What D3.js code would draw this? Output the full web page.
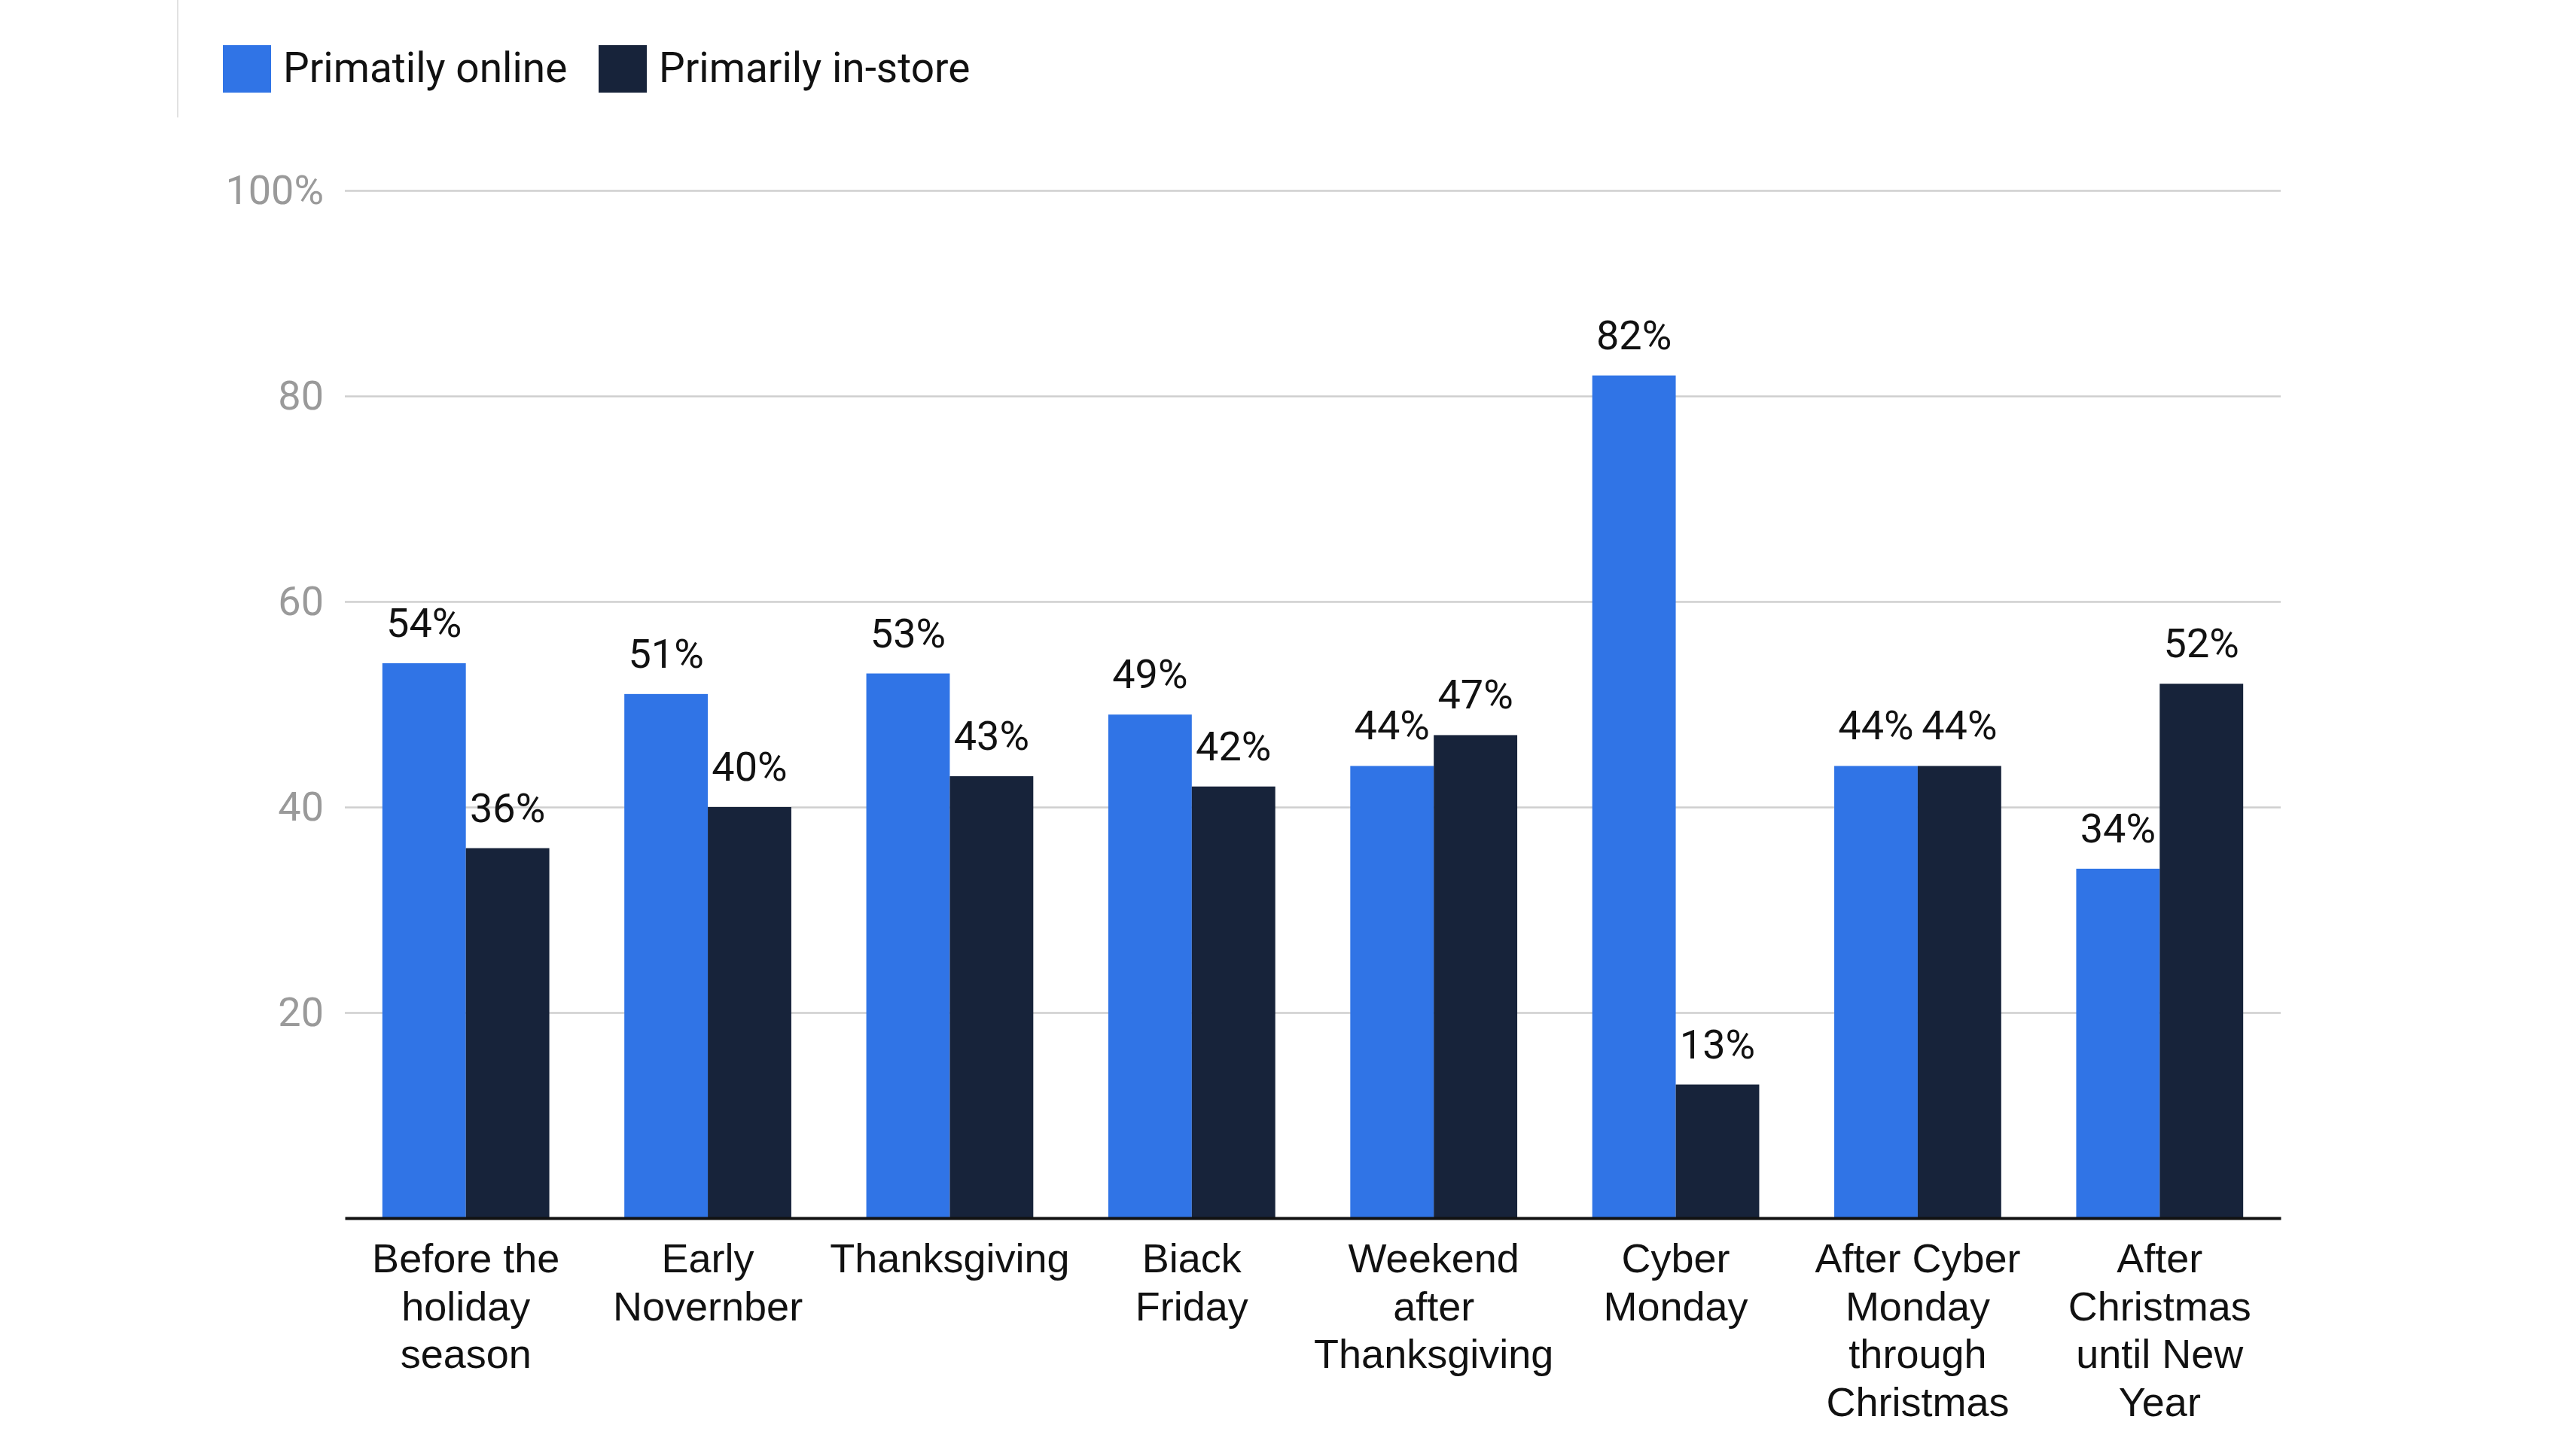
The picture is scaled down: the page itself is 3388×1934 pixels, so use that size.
<!DOCTYPE html>
<html>
<head>
<meta charset="utf-8">
<script src="https://cdn.jsdelivr.net/npm/d3@7"></script>
<style>
  html, body { margin: 0; padding: 0; background: #ffffff; }
  svg { display: block; font-family: Roboto, "Liberation Sans", Arial, sans-serif; }
</style>
</head>
<body>
<svg id="chart" width="3388" height="1934"></svg>
<script>
const categories = [
  "Before the\nholiday\nseason",
  "Early\nNovernber",
  "Thanksgiving",
  "Biack\nFriday",
  "Weekend\nafter\nThanksgiving",
  "Cyber\nMonday",
  "After Cyber\nMonday\nthrough\nChristmas",
  "After\nChristmas\nuntil New\nYear"
];
const seriesNames = ["Primatily online", "Primarily in-store"];
const onlineValues = [54, 51, 53, 49, 44, 82, 44, 34];
const inStoreValues = [36, 40, 43, 42, 47, 13, 44, 52];
const yTicks = [20, 40, 60, 80, 100];
const yTickLabels = ["20", "40", "60", "80", "100%"];
const colors = ["#3074e6", "#17233a"];

(function draw() {
  const svg = d3.select("#chart");
  const plotLeft = 458, plotRight = 3029, plotTop = 253, plotBottom = 1618;

  const x0 = d3.scaleBand().domain(categories).range([plotLeft, plotRight]).paddingInner(0.31).paddingOuter(0.155);
  const x1 = d3.scaleBand().domain(seriesNames).range([0, x0.bandwidth()]).padding(0);
  const y = d3.scaleLinear().domain([0, 100]).range([plotBottom, plotTop]);

  // thin vertical line near legend
  svg.append("line").attr("x1", 236).attr("x2", 236).attr("y1", 0).attr("y2", 156)
    .attr("stroke", "#e2e2e2").attr("stroke-width", 2);

  // y axis + gridlines
  const yAxis = d3.axisLeft(y).tickValues(yTicks).tickSize(0)
    .tickFormat((d, i) => yTickLabels[i]);
  const gy = svg.append("g").attr("transform", `translate(${plotLeft},0)`).call(yAxis);
  gy.select(".domain").remove();
  gy.selectAll(".tick text")
    .attr("x", -28)
    .attr("fill", "#9a9a9a")
    .attr("font-size", 54)
    .attr("font-family", "Roboto, sans-serif");
  gy.selectAll(".tick").append("line")
    .attr("x1", 0).attr("x2", plotRight - plotLeft)
    .attr("stroke", "#cfcfcf").attr("stroke-width", 2.5);

  // bars
  const data = categories.map((c, i) => ({ cat: c, vals: [onlineValues[i], inStoreValues[i]] }));
  const groups = svg.append("g").selectAll("g").data(data).join("g")
    .attr("transform", d => `translate(${x0(d.cat)},0)`);
  const items = d => d.vals.map((v, j) => ({ v, s: seriesNames[j], j }));
  groups.selectAll("rect").data(items).join("rect")
    .attr("x", d => x1(d.s))
    .attr("width", x1.bandwidth())
    .attr("y", d => y(d.v))
    .attr("height", d => y(0) - y(d.v))
    .attr("fill", d => colors[d.j]);
  groups.selectAll("text.val").data(items).join("text")
    .attr("class", "val")
    .attr("x", d => x1(d.s) + x1.bandwidth() / 2)
    .attr("y", d => y(d.v) - 35)
    .attr("text-anchor", "middle")
    .attr("font-size", 54)
    .attr("fill", "#111111")
    .text(d => d.v + "%");

  // x axis
  const xAxis = d3.axisBottom(x0).tickSize(0).tickFormat("");
  const gx = svg.append("g").attr("transform", `translate(0,${plotBottom})`).call(xAxis);
  gx.select(".domain").attr("stroke", "#111111").attr("stroke-width", 4);
  gx.selectAll(".tick").each(function(d) {
    const lines = d.split("\n");
    const t = d3.select(this).append("text")
      .attr("text-anchor", "middle")
      .attr("font-size", 54)
      .attr("fill", "#111111");
    lines.forEach((ln, k) => {
      t.append("tspan").attr("x", 0).attr("y", 72 + k * 63.5).text(ln);
    });
  });

  // legend
  const legend = svg.append("g").attr("transform", "translate(296,60)");
  const legendX = [0, 499];
  seriesNames.forEach((name, i) => {
    const g = legend.append("g").attr("transform", `translate(${legendX[i]},0)`);
    g.append("rect").attr("width", 64).attr("height", 63).attr("fill", colors[i]);
    g.append("text").attr("x", 80).attr("y", 49).attr("font-size", 55).attr("fill", "#111111").text(name);
  });
})();
</script>
</body>
</html>
